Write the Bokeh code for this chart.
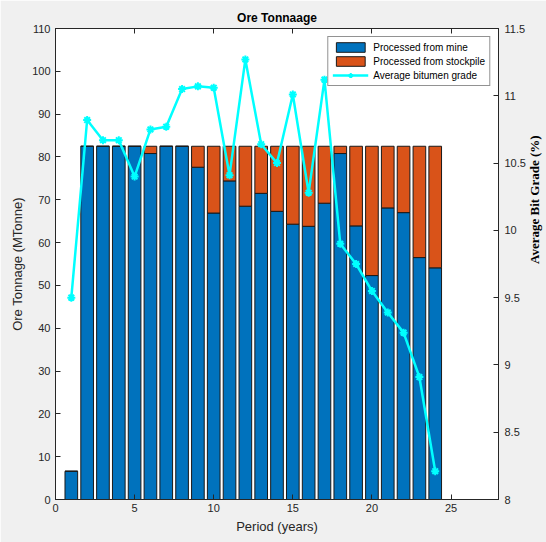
import math
from bokeh.plotting import figure
from bokeh.models import LinearAxis, Range1d, ColumnDataSource, FixedTicker
from bokeh.embed import file_html
from bokeh.resources import INLINE

years = list(range(1, 25))
mine = [6.6, 82.5, 82.5, 82.5, 82.5, 80.8, 82.5, 82.5, 77.6, 66.9, 74.4, 68.5,
        71.5, 67.3, 64.3, 63.8, 69.2, 80.8, 63.9, 52.3, 68.1, 67.0, 56.5, 54.1]
stockpile = [0.0, 0.0, 0.0, 0.0, 0.0, 1.7, 0.0, 0.0, 4.9, 15.6, 8.1, 14.0,
             11.0, 15.2, 18.2, 18.7, 13.3, 1.7, 18.6, 30.2, 14.4, 15.5, 26.0, 28.4]
grade = [9.50, 10.82, 10.67, 10.67, 10.40, 10.75, 10.77, 11.05, 11.07, 11.06, 10.41, 11.27,
         10.64, 10.50, 11.01, 10.28, 11.12, 9.90, 9.75, 9.55, 9.39, 9.24, 8.91, 8.21]
x_ticks = [0, 5, 10, 15, 20, 25]
y_ticks = list(range(0, 111, 10))
g_ticks = [8, 8.5, 9, 9.5, 10, 10.5, 11, 11.5]

AX = "#262626"
FONT = "Liberation Sans"

src = ColumnDataSource(dict(years=years, mine=mine, stockpile=stockpile, grade=grade))

p = figure(width=546, height=542, output_backend="svg", toolbar_location=None,
           x_range=Range1d(0, 28), y_range=Range1d(0, 110),
           frame_width=443, frame_height=471,
           min_border_left=55, min_border_right=48, min_border_top=28, min_border_bottom=43,
           background_fill_color="white", border_fill_color="#f0f0f0")
p.extra_y_ranges = {"grade": Range1d(8, 11.5)}

p.vbar_stack(["mine", "stockpile"], x="years", width=0.8, source=src,
             color=["#0072BD", "#D95319"], line_color="#1a1a1a", line_width=1,
             legend_label=["Processed from mine", "Processed from stockpile"])

p.line("years", "grade", source=src, y_range_name="grade", line_color="#00FFFF",
       line_width=2.5, legend_label="Average bitumen grade")
p.scatter("years", "grade", source=src, y_range_name="grade", marker="asterisk",
          size=8, line_color="#00FFFF", line_width=2, legend_label="Average bitumen grade")

p.grid.visible = False
p.outline_line_color = AX
p.outline_line_width = 1

p.title.text = "Ore Tonnaage"
p.title.align = "center"
p.title.text_font = FONT
p.title.text_font_size = "12px"
p.title.text_font_style = "bold"
p.title.text_color = "#000000"
p.title.standoff = 8

def style(ax):
    ax.axis_line_color = AX
    ax.major_tick_line_color = AX
    ax.minor_tick_line_color = None
    ax.major_tick_in = 5
    ax.major_tick_out = 0
    ax.major_label_text_font = FONT
    ax.major_label_text_font_size = "11px"
    ax.major_label_text_color = AX
    ax.axis_label_text_font = FONT
    ax.axis_label_text_font_size = "13px"
    ax.axis_label_text_font_style = "normal"
    ax.axis_label_text_color = AX

xa = p.xaxis[0]
style(xa)
xa.ticker = FixedTicker(ticks=x_ticks)
xa.axis_label = "Period (years)"
xa.major_label_standoff = 4
xa.axis_label_standoff = 4

ya = p.yaxis[0]
style(ya)
ya.ticker = FixedTicker(ticks=y_ticks)
ya.axis_label = "Ore Tonnage (MTonne)"
ya.major_label_standoff = 5
ya.axis_label_standoff = 4

ra = LinearAxis(y_range_name="grade", ticker=FixedTicker(ticks=g_ticks),
                axis_label="Average Bit Grade (%)")
style(ra)
ra.axis_label_text_font = "Liberation Serif"
ra.axis_label_text_font_style = "bold"
ra.axis_label_text_font_size = "13px"
ra.axis_label_text_color = "#000000"
ra.major_label_standoff = 6
ra.axis_label_standoff = 6
ra.axis_label_orientation = math.pi / 2
p.add_layout(ra, "right")

ta = LinearAxis(ticker=FixedTicker(ticks=x_ticks))
style(ta)
ta.major_label_overrides = {t: "" for t in x_ticks}
ta.major_label_standoff = 0
p.add_layout(ta, "above")

lg = p.legend[0]
lg.location = "top_right"
lg.margin = 8
lg.label_text_font = FONT
lg.label_text_font_size = "10px"
lg.label_text_color = "#000000"
lg.glyph_height = 12
lg.glyph_width = 36
lg.label_height = 12
lg.spacing = 2
lg.padding = 4
lg.border_line_color = AX
lg.border_line_width = 1
lg.background_fill_alpha = 1

open("out.html", "w").write(file_html(p, INLINE))
